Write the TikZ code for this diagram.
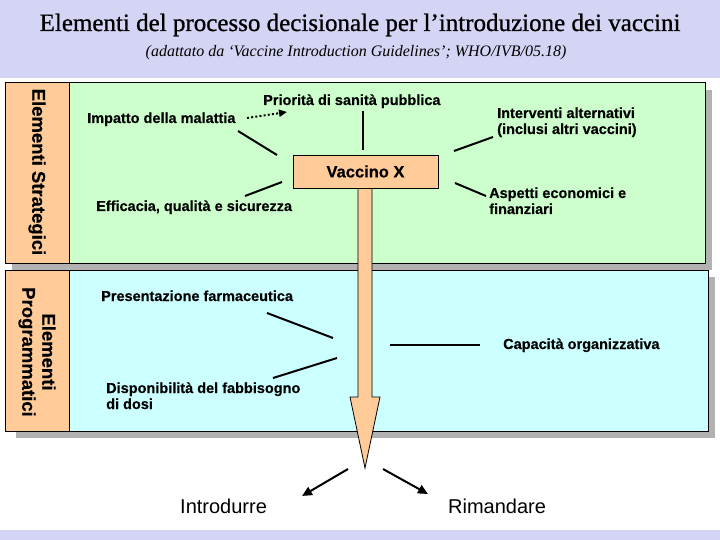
\documentclass[tikz,border=0pt]{standalone}
\usepackage{fontspec}
\setmainfont{Liberation Sans}[BoldFeatures={FakeBold=0.4}]
\newfontfamily\titlefont[FakeBold=0.8]{Liberation Serif}
\newfontfamily\subfont{Liberation Serif}
\usetikzlibrary{arrows.meta}
\definecolor{lav}{RGB}{212,212,244}
\definecolor{grn}{RGB}{204,255,204}
\definecolor{cyn}{RGB}{204,255,255}
\definecolor{org}{RGB}{255,204,153}
\definecolor{shd}{RGB}{178,178,178}
\begin{document}
\begin{tikzpicture}[x=1pt,y=-1pt,
  lbl/.style={font=\fontsize{14.5}{16}\selectfont\bfseries, anchor=base west, inner sep=0, align=left},
  conn/.style={line width=2pt},
  arr/.style={line width=2pt, -{Triangle[length=10pt,width=9pt]}},
  side/.style={font=\fontsize{18.5}{20}\selectfont\bfseries, rotate=-90, align=center, inner sep=0},
  outc/.style={font=\fontsize{20}{22}\selectfont, anchor=base west, inner sep=0},
  panel/.style={draw=black, line width=0.8pt}]
\useasboundingbox (0,0) rectangle (720,540);
% background
\fill[lav] (0,0) rectangle (720,540);
\fill[white] (0,78) rectangle (720,530);
% title
\node[font=\titlefont\fontsize{25}{28}\selectfont, anchor=base, inner sep=0] (title) at (360,31) {Elementi del processo decisionale per l’introduzione dei vaccini};
\node[font=\subfont\itshape\fontsize{16}{18}\selectfont, anchor=base, inner sep=0] (sub) at (356,57) {(adattato da ‘Vaccine Introduction Guidelines’; WHO/IVB/05.18)};
% green panel
\fill[shd] (12,90) rectangle (712,270);
\draw[panel, fill=grn] (5,82) rectangle (705,263);
\draw[panel, fill=org] (5,82) rectangle (69,263);
% cyan panel
\fill[shd] (16,277) rectangle (715,438);
\draw[panel, fill=cyn] (5,270) rectangle (708,431);
\draw[panel, fill=org] (5,270) rectangle (69,431);
% side labels
\node[side] (strat) at (37,172) {Elementi Strategici};
\node[side] (prog) at (37,352) {Elementi\\Programmatici};
% strategic labels
\node[lbl] (prio) at (263,105) {Priorità di sanità pubblica};
\node[lbl] (imp) at (87,123) {Impatto della malattia};
\node[lbl] (eff) at (96,211) {Efficacia, qualità e sicurezza};
\node[lbl] (int) at (497,134) {Interventi alternativi\\(inclusi altri vaccini)};
\node[lbl] (asp) at (489,214) {Aspetti economici e\\finanziari};
% programmatic labels
\node[lbl] (pres) at (101,301) {Presentazione farmaceutica};
\node[lbl] (disp) at (106,409) {Disponibilità del fabbisogno\\di dosi};
\node[lbl] (cap) at (503,349) {Capacità organizzativa};
% outcomes
\node[outc] (intro) at (180,513) {Introdurre};
\node[outc] (rim) at (448,513) {Rimandare};
% connector end points
\coordinate (d1) at (247,118); \coordinate (d2) at (287,112);
\coordinate (p1) at (363,111); \coordinate (p2) at (363,150);
\coordinate (i1) at (238,131); \coordinate (i2) at (277,155);
\coordinate (e1) at (245,196); \coordinate (e2) at (282,182);
\coordinate (a1) at (454,151); \coordinate (a2) at (493,137);
\coordinate (f1) at (455,183); \coordinate (f2) at (486,196);
\coordinate (c1) at (267,313); \coordinate (c2) at (333,338);
\coordinate (c3) at (273,378); \coordinate (c4) at (337,358);
\coordinate (c5) at (390,345); \coordinate (c6) at (480,345);
\coordinate (o0) at (348,469); \coordinate (o1) at (302,496);
\coordinate (o2) at (383,469); \coordinate (o3) at (428,494);
% connectors
\draw[line width=2pt, dash pattern=on 2pt off 2.2pt, -{Triangle[length=8pt,width=7pt]}] (d1) -- (d2);
\draw[conn] (p1) -- (p2);
\draw[conn] (i1) -- (i2);
\draw[conn] (e1) -- (e2);
\draw[conn] (a1) -- (a2);
\draw[conn] (f1) -- (f2);
\draw[conn] (c1) -- (c2);
\draw[conn] (c3) -- (c4);
\draw[conn] (c5) -- (c6);
\draw[arr] (o0) -- (o1);
\draw[arr] (o2) -- (o3);
% big arrow
\draw[fill=org, line width=0.8pt] (358,188) -- (358,397) -- (350,397) -- (365,468) -- (380,397) -- (372,397) -- (372,188) -- cycle;
% vaccine box
\node[draw, line width=0.8pt, fill=org, minimum width=145pt, minimum height=33pt, inner sep=0, font=\fontsize{16.5}{18}\selectfont\bfseries] (vx) at (365.5,171.5) {Vaccino X};
\end{tikzpicture}
\end{document}
